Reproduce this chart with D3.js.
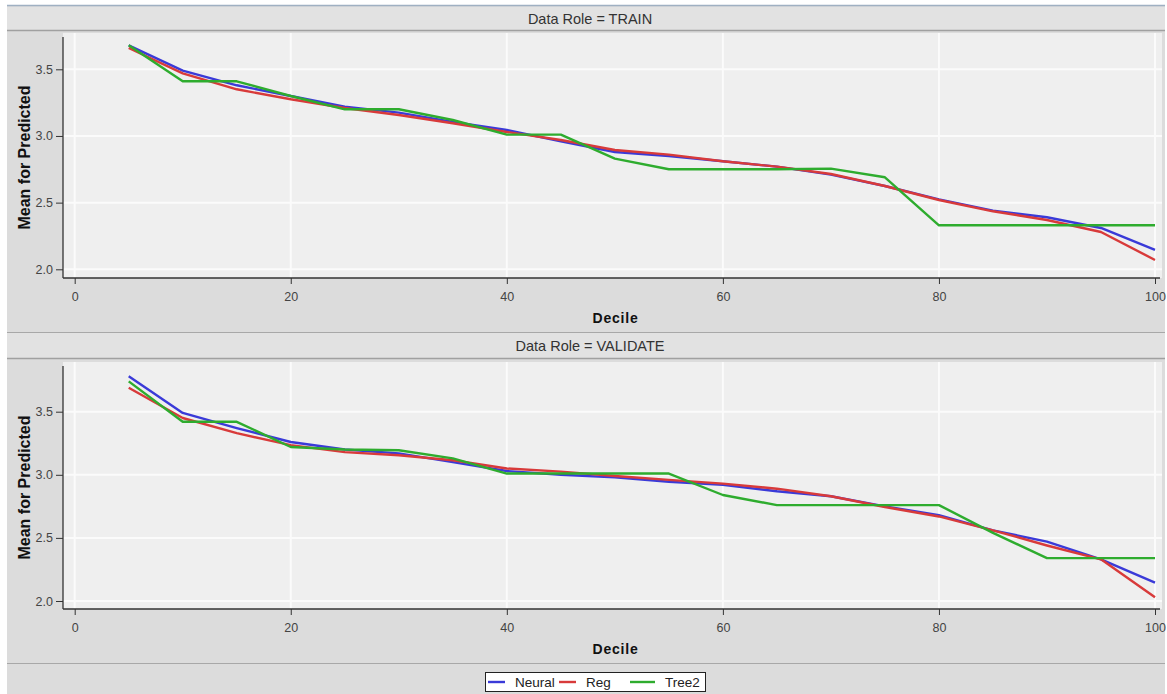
<!DOCTYPE html>
<html>
<head>
<meta charset="utf-8">
<script src="https://cdn.jsdelivr.net/npm/d3@7"></script>
<style>
  body { margin: 0; background: #fff; }
  text { font-family: "Liberation Sans", Arial, sans-serif; }
</style>
</head>
<body>
<svg id="chart" width="1167" height="694"></svg>
<script>
// deciles on the x axis
const deciles = [5, 10, 15, 20, 25, 30, 35, 40, 45, 50, 55, 60, 65, 70, 75, 80, 85, 90, 95, 100];

// Data Role = TRAIN
const trainNeural = [3.68, 3.49, 3.38, 3.30, 3.22, 3.175, 3.105, 3.045, 2.96, 2.88, 2.85, 2.81, 2.77, 2.71, 2.625, 2.525, 2.44, 2.39, 2.31, 2.145];
const trainReg    = [3.66, 3.47, 3.35, 3.275, 3.21, 3.157, 3.095, 3.03, 2.97, 2.895, 2.86, 2.81, 2.77, 2.715, 2.625, 2.52, 2.435, 2.37, 2.28, 2.07];
const trainTree2  = [3.68, 3.41, 3.41, 3.30, 3.20, 3.20, 3.12, 3.01, 3.01, 2.83, 2.75, 2.75, 2.75, 2.755, 2.69, 2.33, 2.33, 2.33, 2.33, 2.33];

// Data Role = VALIDATE
const validNeural = [3.78, 3.49, 3.37, 3.26, 3.20, 3.17, 3.10, 3.03, 3.00, 2.98, 2.945, 2.92, 2.87, 2.83, 2.75, 2.68, 2.56, 2.47, 2.33, 2.145];
const validReg    = [3.69, 3.45, 3.33, 3.235, 3.18, 3.155, 3.115, 3.05, 3.025, 2.99, 2.96, 2.93, 2.89, 2.83, 2.745, 2.67, 2.56, 2.44, 2.33, 2.03];
const validTree2  = [3.74, 3.42, 3.42, 3.22, 3.20, 3.195, 3.13, 3.01, 3.01, 3.01, 3.01, 2.84, 2.76, 2.76, 2.76, 2.76, 2.54, 2.34, 2.34, 2.34];

const xTicks = [0, 20, 40, 60, 80, 100];
const yTicks = [2.0, 2.5, 3.0, 3.5];
const seriesNames = ["Neural", "Reg", "Tree2"];
const seriesColors = ["#3a3ad8", "#d83a3a", "#2eac2e"];

const svg = d3.select("#chart");

// outer frame
svg.append("rect").attr("x", 7).attr("y", 5).attr("width", 1158).attr("height", 689)
    .attr("fill", "#dcdcdc");
svg.append("line").attr("x1", 7).attr("x2", 1165).attr("y1", 5.5).attr("y2", 5.5)
    .attr("stroke", "#9fb0c2").attr("stroke-width", 1.5);

const x = d3.scaleLinear().domain([0, 100]).range([74.7, 1155]);

const panels = [
    {title: "Data Role = TRAIN", bandTop: 7, bandBottom: 30, plotTop: 33, plotBottom: 278,
     yRange: [269.3, 69.3], sectionBottom: 332, series: [trainNeural, trainReg, trainTree2]},
    {title: "Data Role = VALIDATE", bandTop: 333, bandBottom: 358, plotTop: 362, plotBottom: 609,
     yRange: [601, 411.7], sectionBottom: 663, series: [validNeural, validReg, validTree2]}
];

const plotLeft = 63, plotRight = 1162;

panels.forEach(p => {
    // header band
    svg.append("rect").attr("x", 7).attr("y", p.bandTop).attr("width", 1158)
        .attr("height", p.bandBottom - p.bandTop).attr("fill", "#e2e2e2");
    svg.append("line").attr("x1", 7).attr("x2", 1165)
        .attr("y1", p.bandBottom + 0.5).attr("y2", p.bandBottom + 0.5)
        .attr("stroke", "#a0a0a0").attr("stroke-width", 1.5);
    svg.append("text").attr("x", 590).attr("y", (p.bandTop + p.bandBottom) / 2 + 5)
        .attr("text-anchor", "middle").attr("font-size", 14.5).attr("fill", "#333")
        .text(p.title);

    // section bottom line
    svg.append("line").attr("x1", 7).attr("x2", 1165)
        .attr("y1", p.sectionBottom + 0.5).attr("y2", p.sectionBottom + 0.5)
        .attr("stroke", "#a8a8a8").attr("stroke-width", 1);

    const y = d3.scaleLinear().domain([2.0, 3.5]).range(p.yRange);

    // plot background
    svg.append("rect").attr("x", plotLeft).attr("y", p.plotTop)
        .attr("width", plotRight - plotLeft).attr("height", p.plotBottom - p.plotTop)
        .attr("fill", "#efefef");

    // grid
    const g = svg.append("g");
    g.selectAll(".vg").data(xTicks).enter().append("line")
        .attr("x1", d => x(d)).attr("x2", d => x(d))
        .attr("y1", p.plotTop).attr("y2", p.plotBottom)
        .attr("stroke", "#fbfbfb").attr("stroke-width", 2);
    g.selectAll(".hg").data(yTicks).enter().append("line")
        .attr("x1", plotLeft).attr("x2", plotRight)
        .attr("y1", d => y(d)).attr("y2", d => y(d))
        .attr("stroke", "#fbfbfb").attr("stroke-width", 2);

    // series lines
    const line = d3.line().x((d, i) => x(deciles[i])).y(d => y(d));
    p.series.forEach((vals, k) => {
        svg.append("path").datum(vals)
            .attr("d", line)
            .attr("fill", "none")
            .attr("stroke", seriesColors[k])
            .attr("stroke-width", 2.4)
            .attr("stroke-linejoin", "round");
    });

    // axes
    const yAxis = d3.axisLeft(y).tickValues(yTicks).tickFormat(d3.format(".1f"))
        .tickSize(7).tickPadding(3);
    const ya = svg.append("g").attr("transform", `translate(${plotLeft},0)`).call(yAxis);
    ya.select(".domain").remove();
    svg.append("line").attr("x1", plotLeft).attr("x2", plotLeft)
        .attr("y1", p.plotTop + 4).attr("y2", p.plotBottom)
        .attr("stroke", "#333").attr("stroke-width", 1.3);

    const xAxis = d3.axisBottom(x).tickValues(xTicks).tickFormat(d3.format("d"))
        .tickSize(6).tickPadding(8);
    const xa = svg.append("g").attr("transform", `translate(0,${p.plotBottom})`).call(xAxis);
    xa.select(".domain").remove();
    svg.append("line").attr("x1", plotLeft).attr("x2", plotRight - 2)
        .attr("y1", p.plotBottom).attr("y2", p.plotBottom)
        .attr("stroke", "#333").attr("stroke-width", 1.3);

    [ya, xa].forEach(a => {
        a.selectAll(".tick line").attr("stroke", "#333");
        a.selectAll(".tick text").attr("font-size", 12.5).attr("fill", "#444")
            .attr("font-family", "'Liberation Sans', Arial, sans-serif");
    });

    // axis titles
    svg.append("text").attr("x", (plotLeft + plotRight) / 2 + 3).attr("y", p.plotBottom + 45)
        .attr("text-anchor", "middle").attr("font-size", 14).attr("font-weight", "bold")
        .attr("letter-spacing", 0.8).attr("fill", "#111").text("Decile");
    svg.append("text")
        .attr("transform", `translate(30,${(p.plotTop + p.plotBottom) / 2 + 2}) rotate(-90)`)
        .attr("text-anchor", "middle").attr("font-size", 16).attr("font-weight", "bold")
        .attr("fill", "#111").text("Mean for Predicted");
});

// legend
const legend = svg.append("g");
legend.append("rect").attr("x", 485.5).attr("y", 672.5).attr("width", 220).attr("height", 19)
    .attr("fill", "#fff").attr("stroke", "#222").attr("stroke-width", 1);
const legendX = [488, 559, 630];
const legendLen = [17, 17, 25];
seriesNames.forEach((name, k) => {
    legend.append("line").attr("x1", legendX[k]).attr("x2", legendX[k] + legendLen[k])
        .attr("y1", 682).attr("y2", 682)
        .attr("stroke", seriesColors[k]).attr("stroke-width", 2.4);
    legend.append("text").attr("x", legendX[k] + legendLen[k] + 10).attr("y", 687)
        .attr("font-size", 13.5).attr("fill", "#222").text(name);
});
</script>
</body>
</html>
